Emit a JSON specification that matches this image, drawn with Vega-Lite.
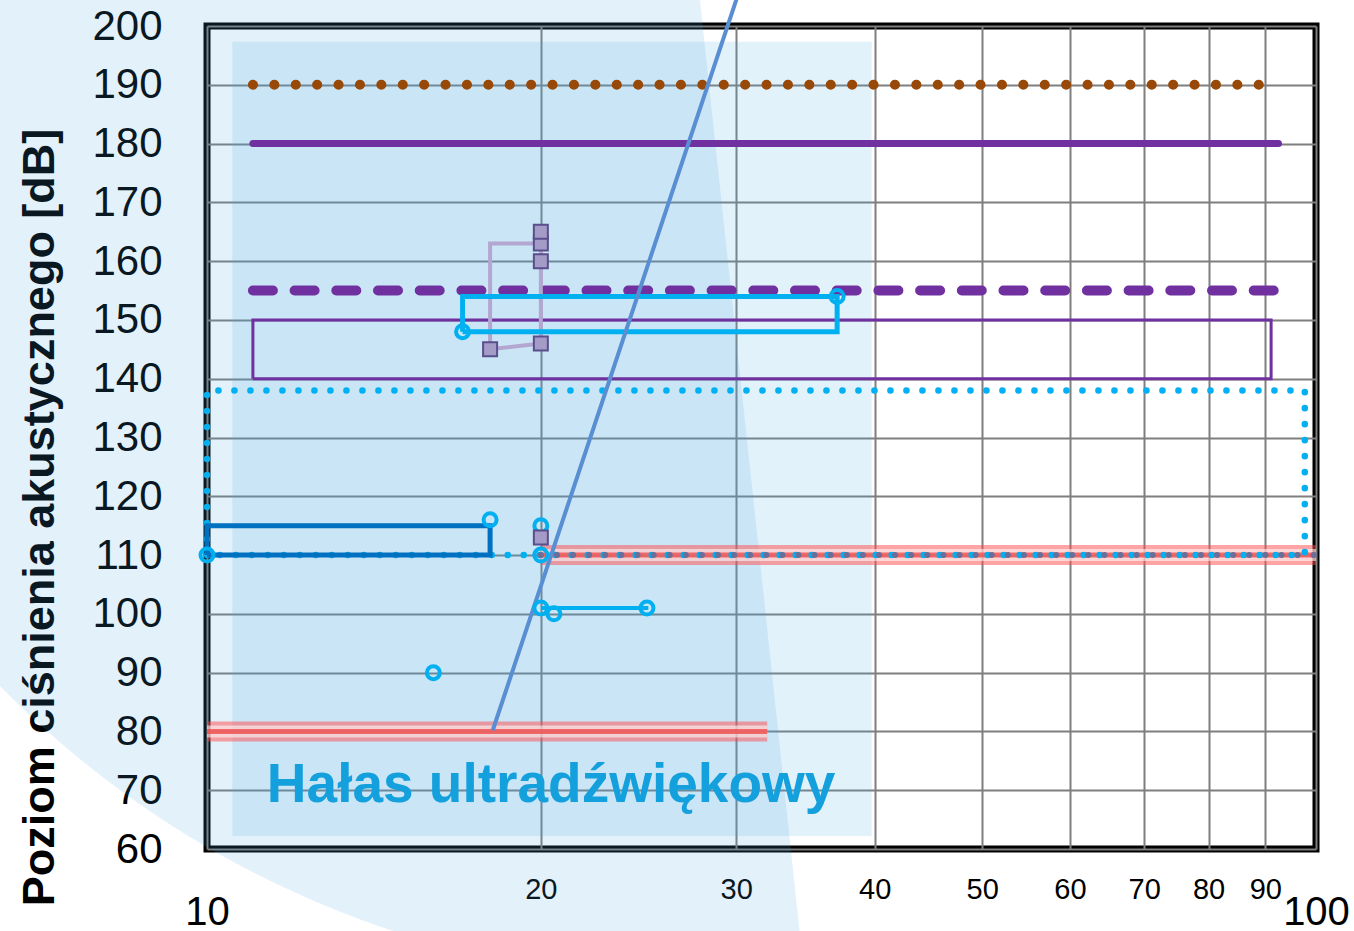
{
  "$schema": "https://vega.github.io/schema/vega-lite/v6.json",
  "width": 1109,
  "height": 823,
  "autosize": {"type": "none"},
  "padding": {"left": 207, "top": 26, "right": 38, "bottom": 82},
  "background": "white",
  "config": {"view": {"stroke": "#000000", "strokeWidth": 7}, "font": "Liberation Sans"},
  "data": {"values": [
    {"s": "logo", "f": 27.83, "db": 204.4},
    {"s": "hatch", "f": 10.54, "db": 62.2, "f2": 39.75, "db2": 197.3},
    {"s": "label", "f": 20.43, "db": 68.0, "t": "Hałas ultradźwiękowy"},
    {"s": "red", "g": "r110", "o": 1, "f": 20, "db": 110},
    {"s": "red", "g": "r110", "o": 2, "f": 100, "db": 110},
    {"s": "red", "g": "r80", "o": 1, "f": 10, "db": 80},
    {"s": "red", "g": "r80", "o": 2, "f": 32, "db": 80},
    {"s": "brown", "o": 1, "f": 11, "db": 190},
    {"s": "brown", "o": 2, "f": 89, "db": 190},
    {"s": "purple", "o": 1, "f": 11, "db": 180},
    {"s": "purple", "o": 2, "f": 92.5, "db": 180},
    {"s": "pdash", "o": 1, "f": 11, "db": 155},
    {"s": "pdash", "o": 2, "f": 92.7, "db": 155},
    {"s": "prect", "o": 1, "f": 11, "db": 140},
    {"s": "prect", "o": 2, "f": 11, "db": 150},
    {"s": "prect", "o": 3, "f": 91.1, "db": 150},
    {"s": "prect", "o": 4, "f": 91.1, "db": 140},
    {"s": "prect", "o": 5, "f": 11, "db": 140},
    {"s": "cdot", "o": 1, "f": 10, "db": 110},
    {"s": "cdot", "o": 2, "f": 10, "db": 138},
    {"s": "cdot", "o": 3, "f": 97.7, "db": 138},
    {"s": "cdot", "o": 4, "f": 97.7, "db": 110},
    {"s": "cdot", "o": 5, "f": 10, "db": 110},
    {"s": "dblue", "o": 1, "f": 10, "db": 110},
    {"s": "dblue", "o": 2, "f": 18, "db": 110},
    {"s": "dblue", "o": 3, "f": 18, "db": 115},
    {"s": "dblue", "o": 4, "f": 10, "db": 115},
    {"s": "dblue", "o": 5, "f": 10, "db": 110},
    {"s": "gdots", "o": 1, "f": 20, "db": 110},
    {"s": "gdots", "o": 2, "f": 100, "db": 110},
    {"s": "lav", "o": 1, "f": 20, "db": 146},
    {"s": "lav", "o": 2, "f": 18, "db": 145},
    {"s": "lav", "o": 3, "f": 18, "db": 163},
    {"s": "lav", "o": 4, "f": 20, "db": 163},
    {"s": "lav", "o": 5, "f": 20, "db": 146},
    {"s": "cloop", "o": 1, "f": 17, "db": 148},
    {"s": "cloop", "o": 2, "f": 37, "db": 148},
    {"s": "cloop", "o": 3, "f": 37, "db": 154},
    {"s": "cloop", "o": 4, "f": 17, "db": 154},
    {"s": "cloop", "o": 5, "f": 17, "db": 148},
    {"s": "cseg", "o": 1, "f": 20, "db": 101},
    {"s": "cseg", "o": 2, "f": 25, "db": 101},
    {"s": "steel", "o": 1, "f": 18.1, "db": 80.2},
    {"s": "steel", "o": 2, "f": 30.2, "db": 206},
    {"s": "circ", "f": 16, "db": 90},
    {"s": "circ", "f": 20, "db": 115},
    {"s": "circ", "f": 20, "db": 110},
    {"s": "circ", "f": 20, "db": 101},
    {"s": "circ", "f": 20.55, "db": 100},
    {"s": "circ", "f": 24.93, "db": 101},
    {"s": "circ", "f": 10, "db": 110},
    {"s": "circ", "f": 18, "db": 116},
    {"s": "circ", "f": 17, "db": 148},
    {"s": "circ", "f": 37, "db": 154},
    {"s": "sq", "f": 18, "db": 145},
    {"s": "sq", "f": 20, "db": 146},
    {"s": "sq", "f": 20, "db": 160},
    {"s": "sq", "f": 20, "db": 163},
    {"s": "sq", "f": 20, "db": 165},
    {"s": "sq", "f": 20, "db": 113}
  ]},
  "encoding": {
    "x": {
      "field": "f", "type": "quantitative",
      "scale": {"type": "log", "domain": [10, 100], "nice": false},
      "axis": {
        "values": [10, 20, 30, 40, 50, 60, 70, 80, 90, 100],
        "format": "d",
        "title": null,
        "domain": false, "ticks": false,
        "grid": true, "gridColor": "#7F7F7F", "gridWidth": 2,
        "labelColor": "#000000",
        "labelFont": "Liberation Sans",
        "labelFontSize": {"condition": {"test": "datum.value == 10 || datum.value == 100", "value": 40}, "value": 29},
        "labelBaseline": {"condition": {"test": "datum.value == 10 || datum.value == 100", "value": "line-top"}, "value": "middle"},
        "labelLineHeight": 47,
        "labelPadding": 40,
        "labelFlush": false, "labelOverlap": false, "labelBound": false
      }
    },
    "y": {
      "field": "db", "type": "quantitative",
      "scale": {"domain": [60, 200], "nice": false, "zero": false},
      "axis": {
        "values": [60, 70, 80, 90, 100, 110, 120, 130, 140, 150, 160, 170, 180, 190, 200],
        "title": "Poziom ciśnienia akustycznego [dB]",
        "titleFont": "Liberation Sans", "titleFontSize": 45, "titleFontWeight": "bold", "titleColor": "#000000",
        "titleAngle": -90, "titleAlign": "center", "titleBaseline": "alphabetic",
        "titleX": -154, "titleY": 491,
        "domain": false, "ticks": false,
        "grid": true, "gridColor": "#7F7F7F", "gridWidth": 2,
        "labelColor": "#000000", "labelFont": "Liberation Sans", "labelFontSize": 42,
        "labelPadding": 45,
        "labelFlush": false, "labelOverlap": false, "labelBound": false
      }
    }
  },
  "layer": [
    {
      "transform": [{"filter": "datum.s == 'logo'"}],
      "mark": {"type": "arc", "outerRadius": 980, "innerRadius": 0, "theta": 3.035, "theta2": 6.2832, "fill": "#44A2DE", "fillOpacity": 0.15, "clip": false}
    },
    {
      "transform": [{"filter": "datum.s == 'hatch'"}],
      "mark": {"type": "rect", "fill": "#4CB0E6", "fillOpacity": 0.16},
      "encoding": {"x2": {"field": "f2"}, "y2": {"field": "db2"}}
    },
    {
      "transform": [{"filter": "datum.s == 'label'"}],
      "mark": {"type": "text", "font": "Liberation Sans", "fontWeight": "bold", "fontSize": 55, "fill": "#14A0DC", "align": "center", "baseline": "alphabetic"},
      "encoding": {"text": {"field": "t"}}
    },
    {
      "transform": [{"filter": "datum.s == 'red'"}],
      "mark": {"type": "line", "stroke": "#FF4A4A", "strokeWidth": 20, "opacity": 0.5, "strokeCap": "butt"},
      "encoding": {"detail": {"field": "g"}, "order": {"field": "o"}}
    },
    {
      "transform": [{"filter": "datum.s == 'red'"}],
      "mark": {"type": "line", "stroke": "#FFFFFF", "strokeWidth": 12, "opacity": 0.55, "strokeCap": "butt"},
      "encoding": {"detail": {"field": "g"}, "order": {"field": "o"}}
    },
    {
      "transform": [{"filter": "datum.s == 'red'"}],
      "mark": {"type": "line", "stroke": "#F03030", "strokeWidth": 5, "opacity": 0.65, "strokeCap": "butt"},
      "encoding": {"detail": {"field": "g"}, "order": {"field": "o"}}
    },
    {
      "transform": [{"filter": "datum.s == 'brown'"}],
      "mark": {"type": "line", "stroke": "#984807", "strokeWidth": 10, "strokeCap": "round", "strokeDash": [0.1, 21.3]},
      "encoding": {"order": {"field": "o"}}
    },
    {
      "transform": [{"filter": "datum.s == 'purple'"}],
      "mark": {"type": "line", "stroke": "#7030A0", "strokeWidth": 7, "strokeCap": "round"},
      "encoding": {"order": {"field": "o"}}
    },
    {
      "transform": [{"filter": "datum.s == 'pdash'"}],
      "mark": {"type": "line", "stroke": "#7030A0", "strokeWidth": 10, "strokeCap": "round", "strokeDash": [20, 21.7]},
      "encoding": {"order": {"field": "o"}}
    },
    {
      "transform": [{"filter": "datum.s == 'prect'"}],
      "mark": {"type": "line", "stroke": "#7030A0", "strokeWidth": 3},
      "encoding": {"order": {"field": "o"}}
    },
    {
      "transform": [{"filter": "datum.s == 'cdot'"}],
      "mark": {"type": "line", "stroke": "#00B0F0", "strokeWidth": 6.5, "strokeCap": "round", "strokeDash": [0.1, 15.9]},
      "encoding": {"order": {"field": "o"}}
    },
    {
      "transform": [{"filter": "datum.s == 'dblue'"}],
      "mark": {"type": "line", "stroke": "#0070C0", "strokeWidth": 5},
      "encoding": {"order": {"field": "o"}}
    },
    {
      "transform": [{"filter": "datum.s == 'gdots'"}],
      "mark": {"type": "line", "stroke": "#6B6E99", "strokeWidth": 6, "strokeCap": "round", "strokeDash": [0.1, 16]},
      "encoding": {"order": {"field": "o"}}
    },
    {
      "transform": [{"filter": "datum.s == 'lav'"}],
      "mark": {"type": "line", "stroke": "#B3A6D0", "strokeWidth": 4},
      "encoding": {"order": {"field": "o"}}
    },
    {
      "transform": [{"filter": "datum.s == 'cloop'"}],
      "mark": {"type": "line", "stroke": "#00B0F0", "strokeWidth": 5},
      "encoding": {"order": {"field": "o"}}
    },
    {
      "transform": [{"filter": "datum.s == 'cseg'"}],
      "mark": {"type": "line", "stroke": "#00B0F0", "strokeWidth": 4},
      "encoding": {"order": {"field": "o"}}
    },
    {
      "transform": [{"filter": "datum.s == 'steel'"}],
      "mark": {"type": "line", "stroke": "#5A8ED2", "strokeWidth": 4, "clip": false},
      "encoding": {"order": {"field": "o"}}
    },
    {
      "transform": [{"filter": "datum.s == 'circ'"}],
      "mark": {"type": "point", "shape": "circle", "filled": false, "stroke": "#00B0F0", "strokeWidth": 4, "size": 169, "opacity": 1}
    },
    {
      "transform": [{"filter": "datum.s == 'sq'"}],
      "mark": {"type": "point", "shape": "square", "filled": true, "fill": "#A49BC6", "stroke": "#5B4E8C", "strokeWidth": 2, "size": 196, "opacity": 1}
    }
  ]
}
